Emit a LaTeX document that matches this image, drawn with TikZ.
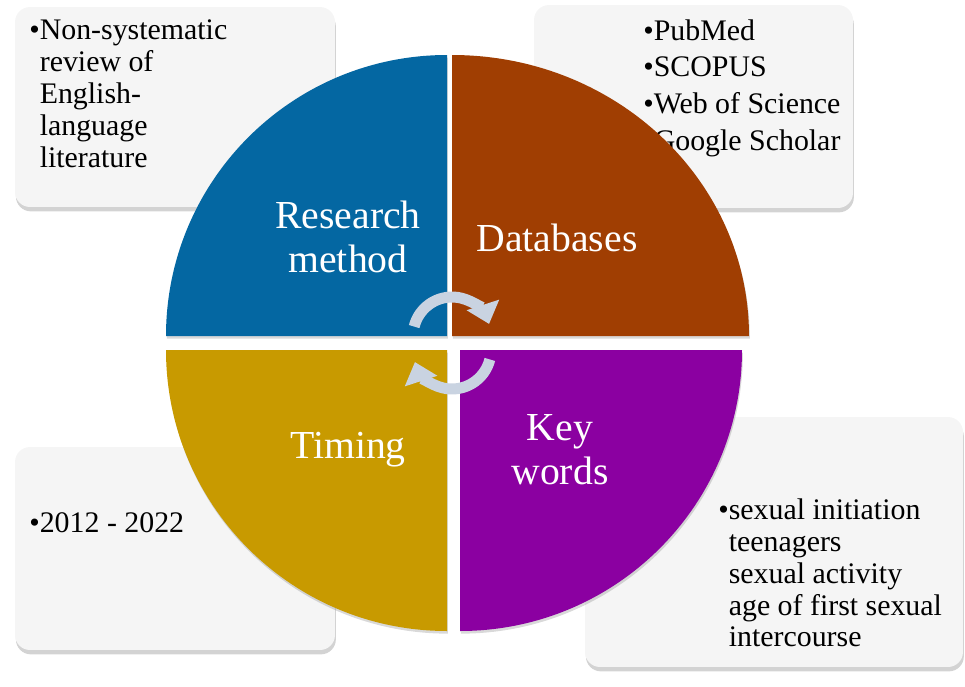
\documentclass[tikz,border=0pt]{standalone}
\usepackage{fontspec}
\setmainfont{Liberation Serif}
\usepackage{tikz}
\usetikzlibrary{calc,shadows,arrows.meta,positioning}
\definecolor{myblue}{RGB}{4,103,162}
\definecolor{mybrown}{RGB}{160,62,2}
\definecolor{mygold}{RGB}{200,154,0}
\definecolor{mypurple}{RGB}{139,0,161}
\definecolor{myboxgray}{RGB}{245,245,245}
\definecolor{mycycle}{RGB}{201,211,225}
\tikzstyle{infobox}=[fill=myboxgray,rounded corners=0.3cm,inner sep=0pt,drop shadow={shadow xshift=0.5pt,shadow yshift=-2.5pt,opacity=0.35}]
\tikzstyle{infotext}=[inner sep=0pt,align=left,anchor=north west,font=\fontsize{17}{18.2}\selectfont]
\tikzstyle{quarter}=[drop shadow={shadow xshift=0.5pt,shadow yshift=-1.5pt,opacity=0.3}]
\tikzstyle{quarterlabel}=[text=white,align=center,inner sep=0pt,font=\fontsize{22.6}{25}\selectfont]
\tikzstyle{cyclearrow}=[draw=mycycle,line width=0.22cm,-{Triangle[length=0.4cm,width=0.66cm]}]
\newcommand{\hb}{\phantom{\textbullet}}

\begin{document}
\begin{tikzpicture}[x=0.02cm,y=0.02cm]
\useasboundingbox (0,0) rectangle (965,-687);
\draw (175,-107) node [infobox,minimum width=6.4cm,minimum height=4cm] (methodbox) {};
\draw (693.5,-106.5) node [infobox,minimum width=6.38cm,minimum height=4.06cm] (dbbox) {};
\draw (175,-548.5) node [infobox,minimum width=6.4cm,minimum height=4.06cm] (timingbox) {};
\draw (774,-542) node [infobox,minimum width=7.56cm,minimum height=5cm] (keybox) {};
\draw (29,-19) node [infotext] (methodtext) {\textbullet Non-systematic\\\hb review of\\\hb English-\\\hb language\\\hb literature};
\draw (643,-19) node [infotext,font=\fontsize{17}{21}\selectfont] (dbtext) {\textbullet PubMed\\\textbullet SCOPUS\\\textbullet Web of Science\\\textbullet Google Scholar};
\draw (29,-532) node [infotext,anchor=base west] (timingtext) {\textbullet 2012 - 2022};
\draw (718,-498) node [infotext] (keytext) {\textbullet sexual initiation\\\hb teenagers\\\hb sexual activity\\\hb age of first sexual\\\hb intercourse};
\fill[myblue,quarter] (447,-336) -- (166,-336) arc[start angle=180,end angle=90,radius=281] -- cycle;
\fill[mybrown,quarter] (452,-336) -- (452,-55) arc[start angle=90,end angle=0,x radius=297,y radius=281] -- cycle;
\fill[mygold,quarter] (447,-350) -- (166,-350) arc[start angle=180,end angle=270,radius=281] -- cycle;
\fill[mypurple,quarter] (460,-350) -- (460,-631) arc[start angle=270,end angle=360,x radius=282,y radius=281] -- cycle;
\draw (348,-237) node [quarterlabel] (methodlabel) {Research\\method};
\draw (557,-238) node [quarterlabel] (dblabel) {Databases};
\draw (348,-450) node [quarterlabel] (timinglabel) {Timing};
\draw (560,-450) node [quarterlabel] (keylabel) {Key\\words};
\coordinate (topc) at (452,-336);
\coordinate (botc) at (452,-350);
\draw[cyclearrow] ([shift={(166:39)}]topc) arc[start angle=166,end angle=18,radius=39];
\draw[cyclearrow] ([shift={(-14:39)}]botc) arc[start angle=-14,end angle=-162,radius=39];
\end{tikzpicture}
\end{document}
